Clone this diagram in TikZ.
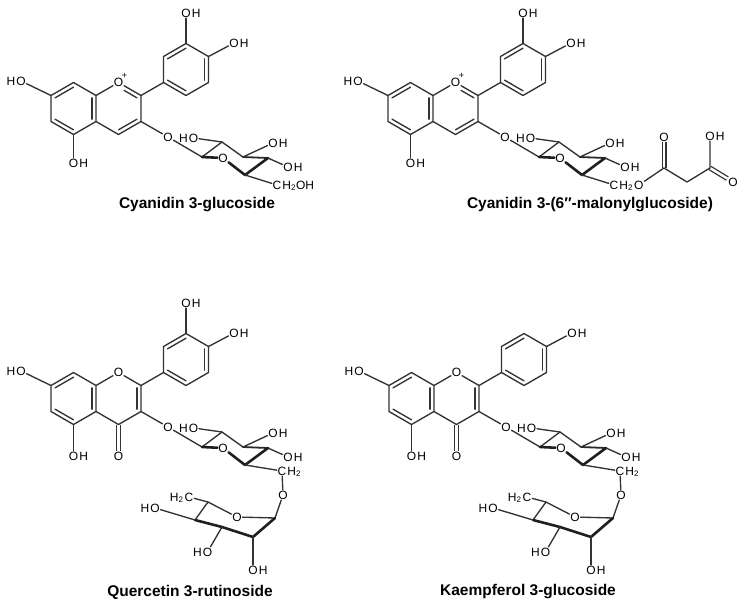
\documentclass[tikz,border=0pt]{standalone}
\usepackage{fontspec}
\setmainfont{Liberation Sans}
\usetikzlibrary{calc}
\tikzset{
  bond/.style={line width=1.35pt,draw=black!80,line cap=round,line join=round},
  boldbond/.style={line width=2.6pt,draw=black!88,line cap=round,line join=round},
  midbond/.style={line width=1.8pt,draw=black!84,line cap=round,line join=round},
  dblbond/.style={line width=1.3pt,draw=black!80,double=white,double distance=2.4pt},
  atom/.style={inner sep=0.7pt,font=\fontsize{12}{12}\selectfont,text=black},
  hlab/.style={inner sep=0pt,font=\fontsize{12}{12}\selectfont,text=black},
  chg/.style={inner sep=0pt,font=\fontsize{9}{9}\selectfont,text=black},
  ttl/.style={font=\fontsize{15.5}{16}\selectfont\bfseries,text=black,inner sep=0pt}
}
\newcommand\dbl[3]{\draw[bond] ($(#3)!.82!(#1)$) -- ($(#3)!.82!(#2)$);}
\newcommand\HOl[2]{\node[atom] (#1) at (#2) {O};\node[hlab,anchor=base east] (#1h) at (#1.base west) {H};}
\newcommand\OHr[2]{\node[atom] (#1) at (#2) {O};\node[hlab,anchor=base west] (#1h) at (#1.base east) {H};}
% A ring, #1 = y of the O of 5-OH
\newcommand\RingA[1]{%
  \coordinate (acen) at (73.5,108.5);
  \coordinate (c8) at (73.5,82.5);
  \coordinate (c8a) at (96,95.5);
  \coordinate (c4a) at (96,121.5);
  \coordinate (c5) at (73.5,134.5);
  \coordinate (c6) at (51,121.5);
  \coordinate (c7) at (51,95.5);
  \draw[bond] (c7)--(c8)--(c8a)--(c4a)--(c5)--(c6)--cycle;
  \dbl{c7}{c8}{acen}\dbl{c8a}{c4a}{acen}\dbl{c5}{c6}{acen}
  \HOl{o7}{21,81}\draw[bond] (c7)--(o7);
  \OHr{o5}{73.5,#1}\draw[bond] (c5)--(o5);
}
% C ring of the flavylium cation
\newcommand\RingCcy{%
  \coordinate (ccen) at (118.5,108.5);
  \node[atom] (o1) at (118.5,82.5) {O};
  \node[chg] (plus) at (124.5,76) {+};
  \coordinate (c2) at (141,95.5);
  \coordinate (c3) at (141,121.5);
  \coordinate (c4) at (118.5,134.5);
  \draw[bond] (c8a)--(o1)--(c2)--(c3)--(c4)--(c4a);
  \coordinate (o1x) at ($(o1)!.3!(c2)$);
  \dbl{o1x}{c2}{ccen}\dbl{c3}{c4}{ccen}
}
% C ring of a flavonol
\newcommand\RingCfl{%
  \coordinate (ccen) at (118.5,108.5);
  \node[atom] (o1) at (118.5,82.5) {O};
  \coordinate (c2) at (141,95.5);
  \coordinate (c3) at (141,121.5);
  \coordinate (c4) at (118.5,134.5);
  \node[atom] (o4) at (118.5,166) {O};
  \draw[dblbond] (c4)--(o4);
  \draw[bond] (c8a)--(o1)--(c2)--(c3)--(c4)--(c4a);
  \dbl{c2}{c3}{ccen}
}
% B ring
\newcommand\RingB{%
  \coordinate (bcen) at (186,69.5);
  \coordinate (c1p) at (163.5,82.5);
  \coordinate (c2p) at (163.5,56.5);
  \coordinate (c3p) at (186,43.5);
  \coordinate (c4p) at (208.5,56.5);
  \coordinate (c5p) at (208.5,82.5);
  \coordinate (c6p) at (186,95.5);
  \draw[bond] (c1p)--(c2p)--(c3p)--(c4p)--(c5p)--(c6p)--cycle;
  \dbl{c2p}{c3p}{bcen}\dbl{c4p}{c5p}{bcen}\dbl{c6p}{c1p}{bcen}
  \draw[bond] (c2)--(c1p);
}
\newcommand\BOHthree{\OHr{o3p}{186,13}\draw[bond] (c3p)--(o3p);}
\newcommand\BOHfour{\OHr{o4p}{234,43}\draw[bond] (c4p)--(o4p);}
% glucose chair (without its C6 group)
\newcommand\Gluc{%
  \node[atom] (o3) at (168,137) {O};
  \coordinate (g1) at (202,157);
  \coordinate (g2) at (222,142);
  \coordinate (g3) at (243,157);
  \coordinate (g4) at (268,158);
  \coordinate (g5) at (245,175);
  \node[atom] (g5o) at (223,158) {O};
  \draw[bond] (c3)--(o3)--(g1);
  \draw[bond] (g1)--(g2)--(g3);
  \draw[midbond] (g3)--(g4);
  \draw[boldbond] (g1)--(g5o)--(g5)--(g4);
  \HOl{g2o}{193.5,138}\draw[bond] (g2)--(g2o);
  \OHr{g3o}{273,143}\draw[bond] (g3)--(g3o);
  \OHr{g4o}{288,167}\draw[bond] (g4)--(g4o);
}
% 6-O-rhamnosyl part
\newcommand\Rham{%
  \node[atom] (g6) at (282,181) {C};
  \node[hlab,anchor=base west] (g6h) at (g6.base east) {H\textsubscript{2}};
  \node[atom] (o6) at (283,205) {O};
  \draw[bond] (g5)--(g6)--(o6);
  \coordinate (r1) at (275,228);
  \coordinate (r2) at (253,247);
  \coordinate (r3) at (222,237);
  \coordinate (r4) at (195,230);
  \coordinate (r5) at (208,212);
  \node[atom] (r5o) at (237,227) {O};
  \draw[bond] (o6)--(r1);
  \draw[bond] (r1)--(r5o)--(r5)--(r4);
  \draw[boldbond] (r4)--(r3)--(r2)--(r1);
  \node[atom] (r6) at (189,207) {C};
  \node[hlab,anchor=base east] (r6h) at (r6.base west) {H\textsubscript{2}};
  \draw[bond] (r6)--(r5);
  \HOl{r4o}{155,218}\draw[bond] (r4)--(r4o);
  \HOl{r3o}{207.5,262}\draw[bond] (r3)--(r3o);
  \OHr{r2o}{253,280}\draw[bond] (r2)--(r2o);
}
\begin{document}
\begin{tikzpicture}[x=1pt,y=-1pt]
\useasboundingbox (0,0) rectangle (750,605);
% ---------- Cyanidin 3-glucoside
\begin{scope}[name prefix=s1-]
  \RingA{163}\RingCcy\RingB\BOHthree\BOHfour\Gluc
  \node[atom] (g6) at (277,185) {C};
  \node[hlab,anchor=base west] (g6h) at (g6.base east) {H\textsubscript{2}OH};
  \draw[bond] (g5)--(g6);
  \node[ttl] (title) at (197,205) {Cyanidin 3-glucoside};
\end{scope}
% ---------- Cyanidin 3-(6''-malonylglucoside)
\begin{scope}[shift={(337,0)},name prefix=s2-]
  \RingA{163}\RingCcy\RingB\BOHthree\BOHfour\Gluc
  \node[atom] (g6) at (277,185) {C};
  \node[hlab,anchor=base west] (g6h) at (g6.base east) {H\textsubscript{2}};
  \node[atom,anchor=base west] (o6) at (g6h.base east) {O};
  \draw[bond] (g5)--(g6);
  \coordinate (m1) at (327,168);
  \node[atom] (m1o) at (327,137) {O};
  \coordinate (m2) at (350,182);
  \coordinate (m3) at (373,168);
  \OHr{m3o}{373,136}
  \node[atom] (m3d) at (396,182) {O};
  \draw[dblbond] (m1)--(m1o);
  \draw[dblbond] (m3)--(m3d);
  \draw[bond] (o6)--(m1)--(m2)--(m3)--(m3o);
  \node[ttl] (title) at (253,205) {Cyanidin 3-(6″-malonylglucoside)};
\end{scope}
% ---------- Quercetin 3-rutinoside
\begin{scope}[shift={(0,290)},name prefix=s3-]
  \RingA{166}\RingCfl\RingB\BOHthree\BOHfour\Gluc\Rham
  \node[ttl] (title) at (190,302) {Quercetin 3-rutinoside};
\end{scope}
% ---------- Kaempferol 3-glucoside
\begin{scope}[shift={(338,290)},name prefix=s4-]
  \RingA{166}\RingCfl\RingB\BOHfour\Gluc\Rham
  \node[ttl] (title) at (190,302) {Kaempferol 3-glucoside};
\end{scope}
\end{tikzpicture}
\end{document}
